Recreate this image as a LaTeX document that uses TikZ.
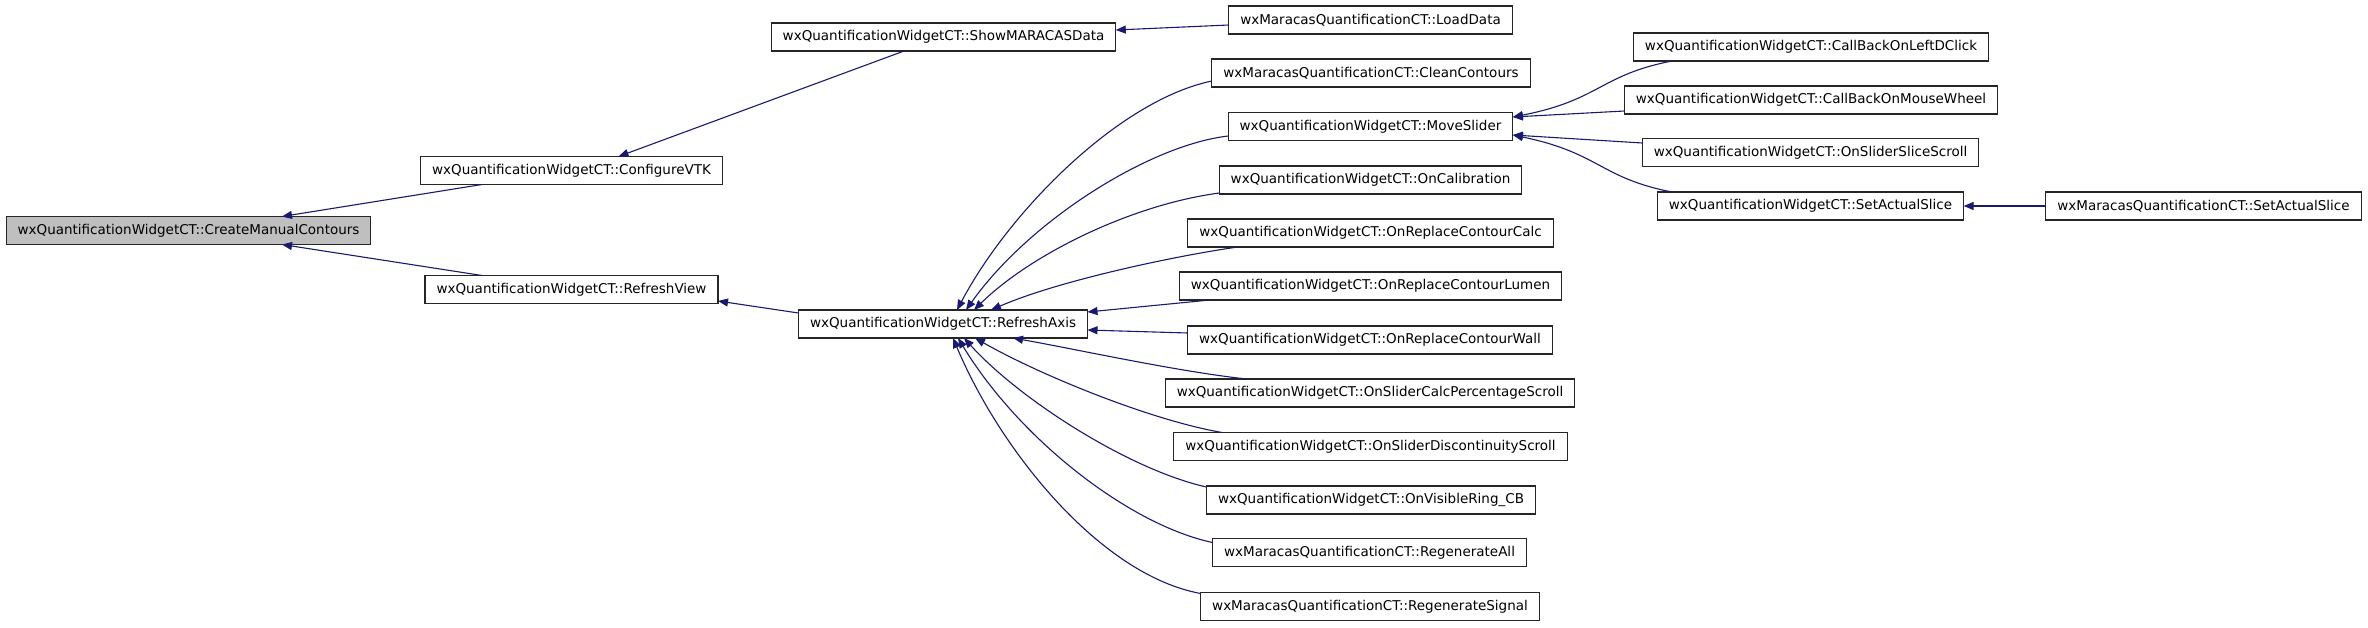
\documentclass[tikz,border=0pt]{standalone}
\usepackage{fontspec}
\setmainfont{DejaVu Sans}
\usetikzlibrary{arrows.meta}
\definecolor{edgeblue}{HTML}{191970}
\definecolor{rootgray}{HTML}{BFBFBF}
\begin{document}
\begin{tikzpicture}[x=1pt,y=-1pt,
  fn/.style={draw=black!85, line width=1.1pt, fill=white, inner xsep=11.5pt, inner ysep=0pt,
             minimum height=28pt, outer sep=0pt, font=\fontsize{13.5}{16}\selectfont, text=black},
  root/.style={fn, fill=rootgray},
  edge/.style={draw=edgeblue, line width=1.1pt, -{Triangle[length=10pt,width=8pt]}}]
\useasboundingbox (0,0) rectangle (2368,627);

% nodes
\node[root] (cmc)   at (188.5,230.5) {wxQuantificationWidgetCT::CreateManualContours};
\node[fn] (cvtk)  at (571.5,170.5) {wxQuantificationWidgetCT::ConfigureVTK};
\node[fn] (rview) at (571.5,289.5) {wxQuantificationWidgetCT::RefreshView};
\node[fn] (show)  at (943.5,37)    {wxQuantificationWidgetCT::ShowMARACASData};
\node[fn] (raxis) at (943,324)     {wxQuantificationWidgetCT::RefreshAxis};
\node[fn] (load)  at (1370.5,20)   {wxMaracasQuantificationCT::LoadData};
\node[fn] (clean) at (1371,73)     {wxMaracasQuantificationCT::CleanContours};
\node[fn] (move)  at (1370.5,126.5){wxQuantificationWidgetCT::MoveSlider};
\node[fn] (calib) at (1370.5,180)  {wxQuantificationWidgetCT::OnCalibration};
\node[fn] (calc)  at (1370.5,233)  {wxQuantificationWidgetCT::OnReplaceContourCalc};
\node[fn] (lumen) at (1370.5,286)  {wxQuantificationWidgetCT::OnReplaceContourLumen};
\node[fn] (wall)  at (1370,340)    {wxQuantificationWidgetCT::OnReplaceContourWall};
\node[fn] (pct)   at (1370,393)    {wxQuantificationWidgetCT::OnSliderCalcPercentageScroll};
\node[fn] (disc)  at (1370.5,446.5){wxQuantificationWidgetCT::OnSliderDiscontinuityScroll};
\node[fn] (vis)   at (1371,500)    {wxQuantificationWidgetCT::OnVisibleRing\_CB};
\node[fn] (rall)  at (1369.5,552.5){wxMaracasQuantificationCT::RegenerateAll};
\node[fn] (rsig)  at (1370,606.5)  {wxMaracasQuantificationCT::RegenerateSignal};
\node[fn] (ldc)   at (1811,47)     {wxQuantificationWidgetCT::CallBackOnLeftDClick};
\node[fn] (mw)    at (1811,100)    {wxQuantificationWidgetCT::CallBackOnMouseWheel};
\node[fn] (sss)   at (1810.5,152.5){wxQuantificationWidgetCT::OnSliderSliceScroll};
\node[fn] (sas)   at (1810.5,206)  {wxQuantificationWidgetCT::SetActualSlice};
\node[fn] (msas)  at (2203.5,206)  {wxMaracasQuantificationCT::SetActualSlice};

% edges into CreateManualContours
\draw[edge] ([xshift=-89.5pt]cvtk.south) -- ([xshift=93.5pt]cmc.north);
\draw[edge] ([xshift=-89.5pt]rview.north) -- ([xshift=93.5pt]cmc.south);
% ConfigureVTK branch
\draw[edge] ([xshift=-39.5pt]show.south) -- ([xshift=47pt]cvtk.north);
\draw[edge] ([yshift=-5pt]load.west) -- ([yshift=7pt]show.east);
% RefreshView
\draw[edge] ([yshift=11pt]raxis.west) -- ([yshift=-11.5pt]rview.east);
% into RefreshAxis, top
\draw[edge] ([yshift=-8pt]clean.west) .. controls (1120,100) and (1010,210) .. ([xshift=14pt]raxis.north);
\draw[edge] ([yshift=-9.5pt]move.west) .. controls (1150,145) and (1030,220) .. ([xshift=23pt]raxis.north);
\draw[edge] ([yshift=-13pt]calib.west) .. controls (1130,205) and (1030,255) .. ([xshift=31pt]raxis.north);
\draw[edge] ([xshift=-132.5pt]calc.south) .. controls (1180,255) and (1060,280) .. ([xshift=48pt]raxis.north);
% right side
\draw[edge] ([xshift=-160.5pt]lumen.south) -- ([yshift=12pt]raxis.east);
\draw[edge] ([yshift=7pt]wall.west) -- ([yshift=-6pt]raxis.east);
% bottom
\draw[edge] ([xshift=-123pt]pct.north) .. controls (1180,372) and (1080,350) .. ([xshift=70pt]raxis.south);
\draw[edge] ([xshift=-148.5pt]disc.north) .. controls (1150,420) and (1040,375) .. ([xshift=32pt]raxis.south);
\draw[edge] ([yshift=-1pt]vis.north west) .. controls (1130,470) and (1020,400) .. ([xshift=21pt]raxis.south);
\draw[edge] ([yshift=-4pt]rall.north west) .. controls (1130,525) and (1020,440) .. ([xshift=15pt]raxis.south);
\draw[edge] ([yshift=-1pt]rsig.north west) .. controls (1100,575) and (1000,450) .. ([xshift=10pt]raxis.south);
% into MoveSlider
\draw[edge] ([xshift=-139pt]ldc.south) .. controls (1600,75) and (1600,100) .. ([yshift=9.5pt]move.east);
\draw[edge] ([yshift=-11pt]mw.west) -- ([yshift=9.5pt]move.east);
\draw[edge] ([yshift=9.5pt]sss.west) -- ([yshift=-8.5pt]move.east);
\draw[edge] ([xshift=-138.5pt]sas.north) .. controls (1600,178) and (1600,153) .. ([yshift=-8.5pt]move.east);
% SetActualSlice
\draw[edge] (msas.west) -- (sas.east);
\end{tikzpicture}
\end{document}
